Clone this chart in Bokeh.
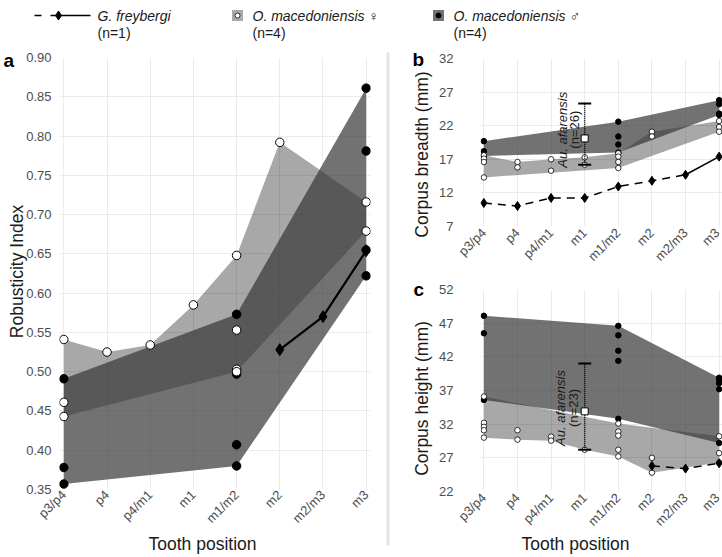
import math
from bokeh.plotting import figure
from bokeh.layouts import column, row
from bokeh.models import Range1d, FixedTicker, PrintfTickFormatter, GridBox, Spacer
from bokeh.core.properties import value
from bokeh.embed import file_html
from bokeh.resources import INLINE

FONT = "Liberation Sans"
W, H = 722, 557

positions = ["p3/p4", "p4", "p4/m1", "m1", "m1/m2", "m2", "m2/m3", "m3"]

# ---------------- Panel a : Robusticity index ----------------
a_yticks = [0.35, 0.40, 0.45, 0.50, 0.55, 0.60, 0.65, 0.70, 0.75, 0.80, 0.85, 0.90]
a_fem_pos = ["p3/p4", "p3/p4", "p3/p4", "p4", "p4/m1", "m1", "m1/m2", "m1/m2", "m1/m2", "m1/m2", "m2", "m3", "m3"]
a_fem_val = [0.541, 0.461, 0.443, 0.525, 0.534, 0.585, 0.648, 0.553, 0.503, 0.500, 0.792, 0.716, 0.679]
a_male_pos = ["p3/p4", "p3/p4", "p3/p4", "m1/m2", "m1/m2", "m1/m2", "m1/m2", "m3", "m3", "m3", "m3"]
a_male_val = [0.491, 0.378, 0.357, 0.573, 0.497, 0.407, 0.380, 0.861, 0.781, 0.655, 0.622]
a_fem_upper_pos = ["p3/p4", "p4", "p4/m1", "m1", "m1/m2", "m2", "m3"]
a_fem_upper_val = [0.541, 0.525, 0.534, 0.585, 0.648, 0.792, 0.716]
a_fem_lower_pos = ["p3/p4", "m1/m2", "m3"]
a_fem_lower_val = [0.443, 0.500, 0.679]
a_male_upper_pos = ["p3/p4", "m1/m2", "m3"]
a_male_upper_val = [0.491, 0.573, 0.861]
a_male_lower_pos = ["p3/p4", "m1/m2", "m3"]
a_male_lower_val = [0.357, 0.380, 0.622]
a_gf_pos = ["m2", "m2/m3", "m3"]
a_gf_val = [0.528, 0.570, 0.654]

# ---------------- Panel b : Corpus breadth ----------------
b_yticks = [7, 12, 17, 22, 27, 32]
b_fem_pos = ["p3/p4", "p3/p4", "p3/p4", "p3/p4", "p4", "p4", "p4/m1", "p4/m1", "m1", "m1",
             "m1/m2", "m1/m2", "m1/m2", "m1/m2", "m2", "m2", "m3", "m3", "m3"]
b_fem_val = [17.6, 17.1, 16.6, 14.3, 16.6, 15.8, 17.0, 15.3, 17.3, 16.2,
             17.9, 17.4, 16.6, 15.7, 21.1, 20.4, 22.7, 21.8, 21.1]
b_male_pos = ["p3/p4", "p3/p4", "p3/p4", "m1/m2", "m1/m2", "m1/m2", "m1/m2", "m3", "m3", "m3", "m3"]
b_male_val = [19.7, 18.2, 17.5, 22.6, 20.4, 19.2, 18.0, 25.8, 25.2, 23.8, 23.6]
b_fem_upper_pos = ["p3/p4", "p4", "p4/m1", "m1", "m1/m2", "m2", "m3"]
b_fem_upper_val = [17.6, 16.6, 17.0, 17.3, 17.9, 21.1, 22.7]
b_fem_lower_pos = ["p3/p4", "m1/m2", "m3"]
b_fem_lower_val = [14.3, 15.7, 21.1]
b_male_upper_pos = ["p3/p4", "m1/m2", "m3"]
b_male_upper_val = [19.7, 22.6, 25.8]
b_male_lower_pos = ["p3/p4", "m1/m2", "m3"]
b_male_lower_val = [17.5, 18.0, 23.6]
b_gf_pos = ["p3/p4", "p4", "p4/m1", "m1", "m1/m2", "m2", "m2/m3", "m3"]
b_gf_val = [10.5, 10.05, 11.25, 11.25, 12.95, 13.8, 14.7, 17.4]
b_afar = {"pos": "m1", "mean": 20.1, "low": 16.2, "high": 25.3, "n": "(n=26)"}

# ---------------- Panel c : Corpus height ----------------
c_yticks = [22, 27, 32, 37, 42, 47, 52]
c_fem_pos = ["p3/p4", "p3/p4", "p3/p4", "p3/p4", "p3/p4", "p4", "p4", "p4/m1", "p4/m1", "m1",
             "m1/m2", "m1/m2", "m1/m2", "m1/m2", "m1/m2", "m2", "m2", "m3", "m3", "m3"]
c_fem_val = [36.1, 32.2, 31.6, 31.1, 30.0, 31.1, 29.7, 30.15, 29.55, 28.2,
             32.1, 30.9, 30.3, 28.2, 27.2, 27.0, 24.8, 30.2, 27.7, 26.3]
c_male_pos = ["p3/p4", "p3/p4", "p3/p4", "m1/m2", "m1/m2", "m1/m2", "m1/m2", "m1/m2",
              "m3", "m3", "m3", "m3", "m3"]
c_male_val = [48.1, 45.5, 35.6, 46.6, 45.2, 42.9, 41.4, 32.8, 38.9, 38.6, 38.1, 37.2, 29.2]
c_fem_upper_pos = ["p3/p4", "m1/m2", "m3"]
c_fem_upper_val = [36.1, 32.1, 30.2]
c_fem_lower_pos = ["p3/p4", "p4", "p4/m1", "m1", "m1/m2", "m2", "m3"]
c_fem_lower_val = [30.0, 29.7, 29.55, 28.2, 27.2, 24.8, 26.3]
c_male_upper_pos = ["p3/p4", "m1/m2", "m3"]
c_male_upper_val = [48.1, 46.6, 38.9]
c_male_lower_pos = ["p3/p4", "m1/m2", "m3"]
c_male_lower_val = [35.6, 32.8, 29.2]
c_gf_pos = ["m2", "m2/m3", "m3"]
c_gf_val = [25.8, 25.4, 26.2]
c_afar = {"pos": "m1", "mean": 33.9, "low": 28.2, "high": 41.0, "n": "(n=23)"}

# legend texts
leg_names = ["G. freybergi", "O. macedoniensis \u2640", "O. macedoniensis \u2642"]
leg_n = ["(n=1)", "(n=4)", "(n=4)"]

FEM_FILL, FEM_ALPHA = "#000000", 0.34
MALE_FILL, MALE_ALPHA = "#363636", 0.70


def idx(names):
    return [positions.index(n) for n in names]


def panel(width, height, ylo, yhi, yticks, bl, br, bt, bb, ystand, xstand, fmt=None):
    p = figure(width=width, height=height, x_range=Range1d(-0.1, 7.1), y_range=Range1d(ylo, yhi),
               output_backend="svg", toolbar_location=None,
               min_border_left=bl, min_border_right=br, min_border_top=bt, min_border_bottom=bb)
    p.outline_line_color = None
    p.xaxis.ticker = FixedTicker(ticks=list(range(len(positions))))
    p.xaxis.major_label_overrides = {i: s for i, s in enumerate(positions)}
    p.xaxis.major_label_orientation = math.pi / 4
    p.yaxis.ticker = FixedTicker(ticks=yticks)
    if fmt:
        p.yaxis.formatter = PrintfTickFormatter(format=fmt)
    for ax in (p.xaxis[0], p.yaxis[0]):
        ax.axis_line_color = None
        ax.major_tick_line_color = None
        ax.minor_tick_line_color = None
        ax.major_tick_out = 0
        ax.major_tick_in = 0
        ax.minor_tick_out = 0
        ax.major_label_text_font = FONT
        ax.major_label_text_font_size = "13px"
        ax.major_label_text_color = "#4d4d4d"
    p.yaxis.major_label_standoff = ystand
    p.xaxis.major_label_standoff = xstand
    p.grid.grid_line_color = "#ebebeb"
    p.grid.grid_line_width = 1
    return p


def band(p, up_pos, up_val, lo_pos, lo_val, color, alpha):
    xs = idx(up_pos) + idx(lo_pos)[::-1]
    ys = list(up_val) + list(lo_val)[::-1]
    p.patch(xs, ys, fill_color=color, fill_alpha=alpha, line_color=None)


def afarensis(p, d, dx1, dx2, ty):
    x = positions.index(d["pos"])
    p.segment(x0=[x], y0=[d["low"]], x1=[x], y1=[d["high"]], line_dash="1 1",
              line_width=1.5, line_color="black")
    p.scatter([x, x], [d["low"], d["high"]], marker="dash", size=13, line_width=2,
              line_color="black")
    p.scatter([x], [d["mean"]], marker="square", size=7, fill_color="white",
              line_color="black", line_width=1)
    p.text(x=[x], y=[ty], text=["Au. afarensis"], angle=math.pi / 2, x_offset=dx1,
           text_align="center", text_baseline="middle", text_font=value(FONT),
           text_font_style="italic", text_font_size="13px", text_color="#1a1a1a")
    p.text(x=[x], y=[ty], text=[d["n"]], angle=math.pi / 2, x_offset=dx2,
           text_align="center", text_baseline="middle", text_font=value(FONT),
           text_font_size="13px", text_color="#1a1a1a")


# ---------------- Panel a ----------------
pa = panel(389, 509, 0.35, 0.90, a_yticks, 59, 19, 9, 68, 8, 3, fmt="%.2f")
band(pa, a_fem_upper_pos, a_fem_upper_val, a_fem_lower_pos, a_fem_lower_val, FEM_FILL, FEM_ALPHA)
band(pa, a_male_upper_pos, a_male_upper_val, a_male_lower_pos, a_male_lower_val, MALE_FILL, MALE_ALPHA)
pa.line(idx(a_gf_pos), a_gf_val, line_width=2.2, line_color="black")
pa.scatter(idx(a_male_pos), a_male_val, marker="circle", size=8.5, fill_color="black", line_color="black")
pa.scatter(idx(a_fem_pos), a_fem_val, marker="circle", size=8.5, fill_color="white", line_color="black", line_width=1)
pa.scatter(idx(a_gf_pos), a_gf_val, marker="diamond", size=12, fill_color="black", line_color="black")

# ---------------- Panel b ----------------
pb = panel(333, 234, 7, 32, b_yticks, 91, 0, 10, 56, 27, 4)
band(pb, b_fem_upper_pos, b_fem_upper_val, b_fem_lower_pos, b_fem_lower_val, FEM_FILL, FEM_ALPHA)
band(pb, b_male_upper_pos, b_male_upper_val, b_male_lower_pos, b_male_lower_val, MALE_FILL, MALE_ALPHA)
bx = idx(b_gf_pos)
pb.line(bx[:7], b_gf_val[:7], line_width=1.5, line_color="black", line_dash="8 6")
pb.line(bx[6:], b_gf_val[6:], line_width=1.5, line_color="black")
pb.scatter(idx(b_male_pos), b_male_val, marker="circle", size=5.5, fill_color="black", line_color="black")
pb.scatter(idx(b_fem_pos), b_fem_val, marker="circle", size=5.5, fill_color="white", line_color="black", line_width=0.8)
pb.scatter(bx, b_gf_val, marker="diamond", size=9, fill_color="black", line_color="black")
afarensis(pb, b_afar, -22, -10, 21.4)

# ---------------- Panel c ----------------
pc = panel(333, 275, 22, 52, c_yticks, 91, 0, 7, 66, 27, 4)
band(pc, c_fem_upper_pos, c_fem_upper_val, c_fem_lower_pos, c_fem_lower_val, FEM_FILL, FEM_ALPHA)
band(pc, c_male_upper_pos, c_male_upper_val, c_male_lower_pos, c_male_lower_val, MALE_FILL, MALE_ALPHA)
pc.scatter(idx(c_male_pos), c_male_val, marker="circle", size=5.5, fill_color="black", line_color="black")
pc.scatter(idx(c_fem_pos), c_fem_val, marker="circle", size=5.5, fill_color="white", line_color="black", line_width=0.8)
pc.line(idx(c_gf_pos), c_gf_val, line_width=1.5, line_color="black", line_dash="8 6")
pc.scatter(idx(c_gf_pos), c_gf_val, marker="diamond", size=9, fill_color="black", line_color="black")
afarensis(pc, c_afar, -24, -11, 34.4)

# ---------------- Overlay : legend, panel letters, axis titles, separator ----------------
ov = figure(width=W, height=H, x_range=Range1d(0, W), y_range=Range1d(0, H),
            x_axis_type=None, y_axis_type=None, output_backend="svg", toolbar_location=None,
            min_border=0)
ov.outline_line_color = None
ov.grid.visible = False
ov.background_fill_alpha = 0
ov.border_fill_alpha = 0


def Y(y):
    return H - y


def otext(x, y, txt, size, angle=0.0, align="left", style="normal", color="#1a1a1a"):
    ov.text(x=[x], y=[Y(y)], text=[txt], angle=angle, text_align=align, text_baseline="middle",
            text_font=value(FONT), text_font_size=size, text_font_style=style, text_color=color)


# separator
ov.segment(x0=[387.5], y0=[Y(52)], x1=[387.5], y1=[Y(545)], line_color="#e4e4e4", line_width=3)

# legend
ov.segment(x0=[34], y0=[Y(15)], x1=[41], y1=[Y(15)], line_color="black", line_width=1.5)
ov.segment(x0=[50], y0=[Y(15)], x1=[90], y1=[Y(15)], line_color="black", line_width=1.5)
ov.scatter([58], [Y(15)], marker="diamond", size=9, fill_color="black", line_color="black")
ov.rect([237], [Y(15)], width=11, height=11, fill_color="#a9a9a9", line_color=None)
ov.scatter([237], [Y(15)], marker="circle", size=5, fill_color="white", line_color="black", line_width=0.8)
ov.rect([438], [Y(15)], width=11, height=11, fill_color="#727272", line_color=None)
ov.scatter([438], [Y(15)], marker="circle", size=5, fill_color="black", line_color="black")
for x, t, n in zip([97, 252, 453], leg_names, leg_n):
    otext(x, 15, t, "14px", style="italic")
    otext(x, 32, n, "14px")

# panel letters
otext(3, 60, "a", "19px", style="bold", color="black")
otext(412, 59, "b", "19px", style="bold", color="black")
otext(413, 289, "c", "19px", style="bold", color="black")

# axis titles
otext(16, 271, "Robusticity Index", "17.5px", angle=math.pi / 2, align="center")
otext(421, 154, "Corpus breadth (mm)", "17.5px", angle=math.pi / 2, align="center")
otext(421, 398, "Corpus height (mm)", "17.5px", angle=math.pi / 2, align="center")
otext(202, 543, "Tooth position", "17.5px", align="center")
otext(575, 543, "Tooth position", "17.5px", align="center")

main = column(Spacer(width=W, height=48), row(pa, column(pb, pc)))
layout = GridBox(children=[(main, 0, 0), (ov, 0, 0)])
open("out.html", "w").write(file_html(layout, INLINE))
